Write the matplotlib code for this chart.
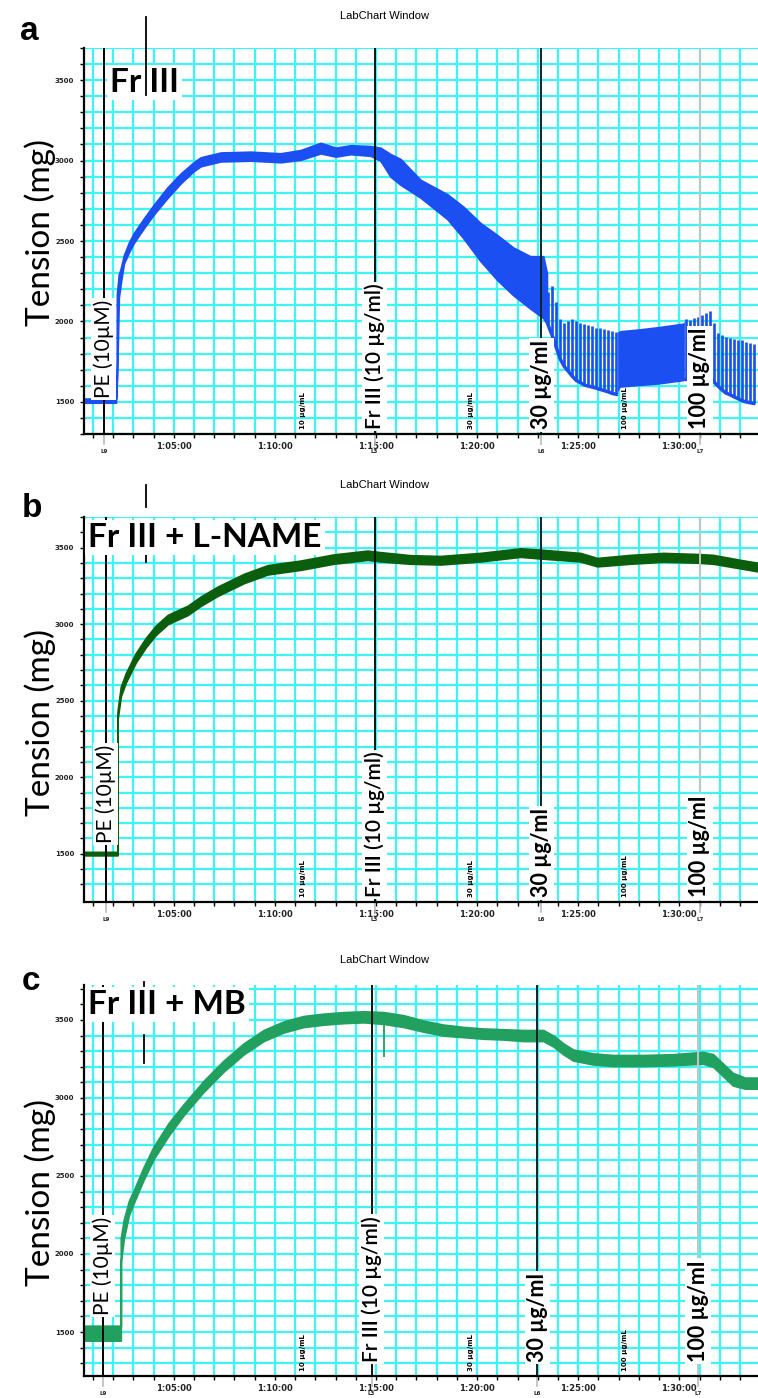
import numpy as np
import matplotlib
matplotlib.use("Agg")
import matplotlib.pyplot as plt

# ---------------- data (time in minutes: 1:05:00 == 65, tension in mg) ----------------
x_major_ticks = [65, 70, 75, 80, 85, 90]
x_tick_labels = ["1:05:00", "1:10:00", "1:15:00", "1:20:00", "1:25:00", "1:30:00"]
y_major_ticks = [1500, 2000, 2500, 3000, 3500]
y_tick_labels = ["1500", "2000", "2500", "3000", "3500"]

event_names = ["PE (10µM)", "Fr III (10 µg/ml)", "30 µg/ml", "100 µg/ml"]
event_tags = ["L9", "L3", "L6", "L7"]
comment_texts = ["10 µg/mL", "30 µg/mL", "100 µg/mL"]
comment_times = [71.4, 79.7, 87.3]

panel_titles = ["Fr III", "Fr III + L-NAME", "Fr III + MB"]
panel_letters = ["a", "b", "c"]

a_events = [61.54, 74.93, 83.17, 91.02]
b_events = [61.64, 74.93, 83.17, 91.02]
c_events = [61.49, 74.78, 82.98, 90.93]
marker_times = [63.62, 63.62, 63.52]

# panel a: recorded band (lower / upper envelope)
a_t = [60.56, 62.14, 62.18, 62.19, 62.28, 62.38, 62.53, 62.78, 63.03, 63.52, 64.01, 64.70,
       65.35, 65.99, 66.33, 67.32, 68.80, 70.28, 71.27, 72.26, 73.00, 73.74, 74.73, 75.22,
       75.72, 76.21, 77.20, 78.53, 79.32, 80.16, 81.00, 81.79, 82.63, 83.27, 83.45]
a_lo = [1495, 1495, 1620, 1640, 2150, 2240, 2360, 2430, 2490, 2580, 2665, 2770,
        2860, 2935, 2965, 2995, 3000, 2990, 3005, 3045, 3025, 3040, 3030, 3000,
        2900, 2850, 2770, 2636, 2518, 2376, 2257, 2163, 2080, 2021, 1985]
a_hi = [1520, 1520, 1650, 2170, 2290, 2330, 2410, 2490, 2550, 2640, 2725, 2835,
        2920, 2990, 3020, 3050, 3055, 3045, 3065, 3110, 3080, 3095, 3090, 3080,
        3040, 3010, 2880, 2790, 2713, 2612, 2536, 2459, 2405, 2405, 2300]
# panel a: oscillation spikes after 30 and 100 µg/ml
a_spike_t = [83.52, 83.72, 83.91, 84.11, 84.31, 84.51, 84.70, 84.90, 85.10, 85.30, 85.49,
             85.69, 85.89, 86.09, 86.28, 86.48, 86.68, 86.88,
             90.33, 90.53, 90.72, 90.91, 91.11, 91.31, 91.51, 91.70, 91.90, 92.10, 92.30,
             92.49, 92.69, 92.89, 93.09, 93.28, 93.48, 93.68]
a_spike_top = [2180, 2222, 2121, 2015, 1991, 2000, 2015, 2000, 1990, 1985, 1975,
               1973, 1960, 1956, 1950, 1944, 1940, 1932,
               2015, 2010, 2020, 2027, 2040, 2050, 2062, 1990, 1930, 1914, 1902,
               1895, 1890, 1885, 1885, 1875, 1867, 1860]
a_spike_bot = [1975, 1910, 1840, 1766, 1720, 1690, 1660, 1633, 1620, 1605, 1598,
               1592, 1585, 1577, 1570, 1562, 1552, 1547,
               1640, 1648, 1652, 1658, 1665, 1675, 1660, 1625, 1600, 1575, 1555,
               1545, 1532, 1520, 1508, 1500, 1495, 1490]
# panel a: dense oscillation block
a_block_t = [86.95, 87.07, 88.00, 89.00, 90.19, 90.25]
a_block_lo = [1560, 1590, 1600, 1610, 1630, 1635]
a_block_hi = [1935, 1944, 1955, 1970, 1991, 2000]

# panel b
b_t = [60.56, 62.16, 62.22, 62.22, 62.38, 62.63, 63.12, 63.62, 64.11, 64.70, 65.35, 65.69,
       66.33, 67.17, 68.46, 69.64, 71.27, 72.90, 74.58, 75.22, 76.70, 78.19, 80.16, 82.14,
       83.27, 85.10, 85.94, 87.57, 89.20, 90.88, 91.67, 93.00, 93.89]
b_lo = [1490, 1490, 1490, 2380, 2530, 2620, 2750, 2850, 2930, 3000, 3040, 3060,
        3120, 3185, 3268, 3325, 3355, 3395, 3420, 3410, 3395, 3390, 3410, 3440,
        3428, 3410, 3378, 3395, 3408, 3402, 3395, 3365, 3345]
b_hi = [1512, 1512, 1512, 2430, 2590, 2680, 2810, 2910, 2990, 3060, 3100, 3120,
        3180, 3245, 3328, 3385, 3415, 3455, 3480, 3470, 3450, 3445, 3465, 3495,
        3485, 3465, 3432, 3452, 3465, 3458, 3452, 3420, 3400]

# panel c
c_t = [60.56, 62.33, 62.38, 62.38, 62.53, 62.78, 63.03, 63.52, 64.01, 64.75, 65.49, 66.48,
       67.47, 68.46, 69.44, 70.43, 71.42, 72.41, 73.40, 74.38, 75.37, 76.36, 77.35, 78.33,
       79.32, 80.31, 81.30, 82.28, 83.27, 83.77, 84.26, 84.75, 85.74, 86.73, 88.21, 89.69,
       91.17, 91.67, 92.16, 92.65, 93.25, 93.89]
c_lo = [1445, 1445, 1445, 1950, 2100, 2250, 2330, 2480, 2610, 2760, 2890, 3040,
        3170, 3280, 3365, 3420, 3455, 3470, 3480, 3485, 3475, 3455, 3425, 3400,
        3390, 3380, 3375, 3365, 3365, 3330, 3280, 3240, 3215, 3205, 3205, 3210,
        3220, 3200, 3140, 3080, 3060, 3060]
c_hi = [1540, 1540, 1540, 2100, 2220, 2340, 2410, 2560, 2690, 2840, 2960, 3110,
        3240, 3350, 3435, 3490, 3525, 3540, 3550, 3555, 3550, 3530, 3495, 3470,
        3455, 3445, 3440, 3435, 3435, 3400, 3350, 3310, 3285, 3275, 3275, 3280,
        3295, 3280, 3220, 3160, 3130, 3130]
c_spike_t = [75.42]
c_spike_top = [3480]
c_spike_bot = [3260]

# ---------------- figure ----------------
W, H = 758.0, 1398.0
fig = plt.figure(figsize=(W / 100, H / 100), dpi=100)
CYAN = "#3ef4f4"
SANS = ["Lato", "DejaVu Sans"]


def fx(px):
    return px / W


def fy(py):
    return 1 - py / H


def draw_panel(idx, box, ylim, t, lo, hi, color, events, marker_t, marker_spans,
               label_bottoms, title_pos, letter_pos, window_y, ylabel_y):
    left, top, bottom = box
    ax = fig.add_axes([fx(left), fy(bottom), fx(W - left), (bottom - top) / H])
    ax.set_xlim(60.56, 93.89)
    ax.set_ylim(*ylim)
    ax.set_axisbelow(True)
    ax.set_xticks(x_major_ticks)
    ax.set_xticklabels(x_tick_labels, fontsize=6, fontweight="bold", color="#222")
    ax.set_xticks(np.arange(61, 94), minor=True)
    ax.set_yticks(y_major_ticks)
    ax.set_yticklabels(y_tick_labels, fontsize=5, fontweight="bold", color="#222")
    ax.set_yticks(np.arange(1300, 3800, 100), minor=True)
    ax.tick_params(which="both", direction="out", length=3, width=1, pad=4)
    ax.tick_params(axis="x", which="major", pad=3)
    ax.grid(which="both", color=CYAN, lw=1.6)
    for s in ("top", "right"):
        ax.spines[s].set_visible(False)
    for s in ("left", "bottom"):
        ax.spines[s].set_linewidth(1.6)
        ax.spines[s].set_zorder(4)

    # trace band
    ax.fill_between(t, lo, hi, color=color, lw=1.3, edgecolor=color, zorder=2)

    # event lines and labels
    ev_colors = ["black", "#111111", "#0d2626", "#c4c4c4"]
    for k, ev in enumerate(events):
        ax.axvline(ev, color=ev_colors[k], lw=1.4, zorder=3)
        ax.plot([ev, ev], [0, -0.025], transform=ax.get_xaxis_transform(),
                color="#bbbbbb", lw=1.2, clip_on=False, zorder=3)
        weight = "bold" if k >= 2 else ("semibold" if k == 1 else "normal")
        size = 15.5 if k >= 2 else 15
        ax.text(ev, label_bottoms[k], event_names[k], rotation=90, ha="center",
                va="bottom", transform=ax.get_xaxis_transform(), family=SANS,
                fontsize=size, fontweight=weight, zorder=6,
                bbox=dict(fc="white", ec="none", pad=1.5))
        ax.annotate(event_tags[k], xy=(ev, 0), xycoords=("data", "axes fraction"),
                    xytext=(0, -12.8), textcoords="offset points", ha="center",
                    va="center", fontsize=4, fontweight="bold", color="#222",
                    annotation_clip=False)

    # small comments
    for ct, txt in zip(comment_times, comment_texts):
        ax.text(ct, 0.012, txt, rotation=90, ha="center", va="bottom",
                transform=ax.get_xaxis_transform(), fontsize=5, fontweight="bold",
                zorder=5)

    # marker line above the title
    for (y0, y1) in marker_spans:
        ax.plot([marker_t, marker_t], [y0, y1], transform=ax.get_xaxis_transform(),
                color="black", lw=1.3, clip_on=False, zorder=8 if idx == 0 else 6)

    # title
    ax.text(fx(title_pos[0]), fy(title_pos[1]), panel_titles[idx], transform=fig.transFigure,
            family=SANS, fontsize=24, fontweight="bold", va="baseline", ha="left",
            zorder=7, clip_on=False, bbox=dict(fc="white", ec="none", pad=2.5))
    fig.text(fx(letter_pos[0]), fy(letter_pos[1]), panel_letters[idx],
             family=["Liberation Sans", "DejaVu Sans"], fontsize=24, fontweight="bold",
             va="baseline", ha="left")
    fig.text(fx(385), fy(window_y), "LabChart Window", fontsize=8,
             family=["Liberation Sans", "DejaVu Sans"], ha="center", va="center")
    fig.text(fx(40), fy(ylabel_y), "Tension (mg)", rotation=90, family=SANS,
             fontsize=24, ha="center", va="center")
    return ax


ax_a = draw_panel(0, (84, 48, 434), (1328, 3612), a_t, a_lo, a_hi, "#1b4ff2", a_events,
                  marker_times[0], [(0.878, 1.080)], [0.093, 0.012, 0.012, 0.012],
                  (110, 92), (20, 40), 16, 232)
ax_a.fill_between(a_block_t, a_block_lo, a_block_hi, color="#1b4ff2", lw=0, zorder=2)
ax_a.vlines(a_spike_t, a_spike_bot, a_spike_top, color="#1b4ff2", lw=1.9, zorder=2)
ax_a.plot(a_spike_t[:18], a_spike_bot[:18], color="#1b4ff2", lw=2.5, zorder=2)
ax_a.plot(a_spike_t[18:], a_spike_bot[18:], color="#1b4ff2", lw=2.5, zorder=2)

ax_b = draw_panel(1, (84, 517, 902), (1185, 3610), b_t, b_lo, b_hi, "#0b5e0b", b_events,
                  marker_times[1], [(0.883, 0.922), (1.026, 1.083)],
                  [0.153, 0.012, 0.012, 0.012], (88, 547), (22, 517), 485, 723)

ax_c = draw_panel(2, (84, 985, 1376), (1218, 3724), c_t, c_lo, c_hi, "#22a05f", c_events,
                  marker_times[2], [(0.80, 0.872), (0.998, 1.008)],
                  [0.156, 0.036, 0.036, 0.036], (88, 1014), (22, 990), 960, 1192)
ax_c.vlines(c_spike_t, c_spike_bot, c_spike_top, color="#22a05f", lw=1.3, zorder=2)

fig.savefig("out.png", dpi=100, facecolor="white")
